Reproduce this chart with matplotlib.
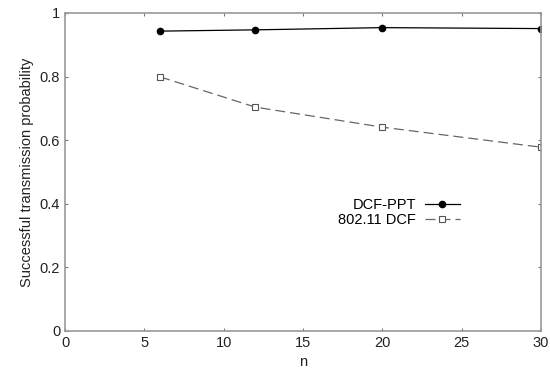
import matplotlib
matplotlib.use("Agg")
import matplotlib.pyplot as plt

n = [6, 12, 20, 30]
dcf_ppt = [0.943, 0.947, 0.954, 0.951]
dcf_80211 = [0.799, 0.704, 0.641, 0.578]
xticks = [0, 5, 10, 15, 20, 25, 30]
yticks = [0, 0.2, 0.4, 0.6, 0.8, 1]
ytick_labels = ["0", "0.2", "0.4", "0.6", "0.8", "1"]

plt.rcParams['font.family'] = ['Liberation Sans', 'DejaVu Sans']
fig = plt.figure(figsize=(5.5, 3.81), dpi=100)
ax = fig.add_axes([65/550, 1-331/381, (541-65)/550, (331-13)/381])

ax.plot(n, dcf_ppt, color='black', lw=0.9, marker='o', ms=4.5, label='DCF-PPT')
ax.plot(n, dcf_80211, color='#666666', lw=0.9, ls=(0, (8, 4)), marker='s', ms=4.5,
        mfc='white', mec='#555555', mew=0.8, label='802.11 DCF')

ax.set_xlim(0, 30)
ax.set_ylim(0, 1)
ax.set_xticks(xticks)
ax.set_yticks(yticks)
ax.set_yticklabels(ytick_labels)
for s in ax.spines.values():
    s.set_color('#999999')
    s.set_linewidth(1.2)
ax.tick_params(direction='in', length=2, color='#777777', labelsize=10.5, top=True, right=True,
               labelcolor='#222222')
ax.set_xlabel('n', fontsize=10.5, color='#222222')
ax.set_ylabel('Successful transmission probability', fontsize=10.5, color='#222222')

leg = ax.legend(loc='center right', bbox_to_anchor=(0.857, 0.372), frameon=False,
                markerfirst=False, fontsize=10.5, handlelength=2.4, labelspacing=0.1,
                handletextpad=0.6)
for t in leg.get_texts():
    t.set_ha('right')

fig.savefig('out.png', dpi=100)
